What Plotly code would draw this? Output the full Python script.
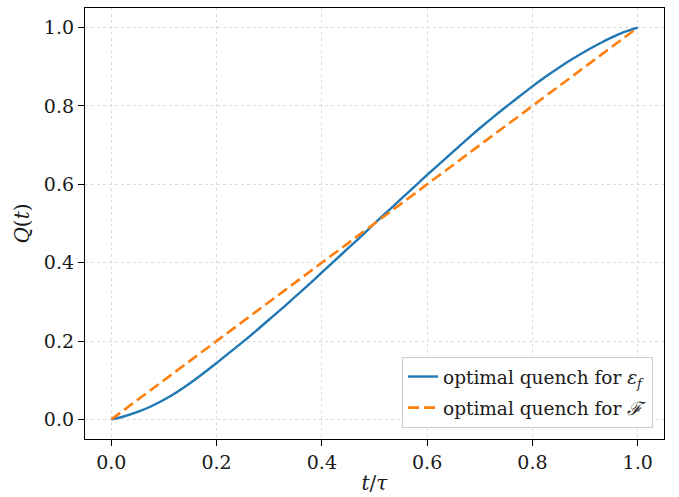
import plotly.graph_objects as go

# time grid t/tau
t_energy = [0.000, 0.025, 0.050, 0.075, 0.100, 0.125, 0.150, 0.175, 0.200,
            0.225, 0.250, 0.275, 0.300, 0.325, 0.350, 0.375, 0.400, 0.425,
            0.450, 0.475, 0.500, 0.525, 0.550, 0.575, 0.600, 0.625, 0.650,
            0.675, 0.700, 0.725, 0.750, 0.775, 0.800, 0.825, 0.850, 0.875,
            0.900, 0.925, 0.950, 0.975, 1.000]
# Q(t) for optimal quench for epsilon_f
q_energy = [0.000, 0.008, 0.019, 0.033, 0.050, 0.070, 0.093, 0.118, 0.144,
            0.171, 0.198, 0.226, 0.255, 0.284, 0.314, 0.344, 0.375, 0.406,
            0.437, 0.468, 0.500, 0.531, 0.562, 0.593, 0.624, 0.654, 0.684,
            0.714, 0.743, 0.771, 0.798, 0.824, 0.850, 0.8745, 0.8975, 0.919,
            0.939, 0.9575, 0.9745, 0.989, 1.000]
# Q(t) for optimal quench for F (linear ramp)
t_fid = [0.0, 1.0]
q_fid = [0.0, 1.0]

x_ticks = [0.0, 0.2, 0.4, 0.6, 0.8, 1.0]
y_ticks = [0.0, 0.2, 0.4, 0.6, 0.8, 1.0]
x_labels = ["0.0", "0.2", "0.4", "0.6", "0.8", "1.0"]
y_labels = ["0.0", "0.2", "0.4", "0.6", "0.8", "1.0"]

FONT = "DejaVu Serif"
fs_tick = 19
fs_title = 20
fs_leg = 18.5
TXT = "#1a1a1a"

fig = go.Figure()
fig.add_trace(go.Scatter(
    x=t_energy, y=q_energy, mode="lines", legendgroup="a",
    line=dict(color="#1f77b4", width=2.4, shape="spline", smoothing=1.0),
    name="optimal quench for <i>ε</i><sub><i>f</i></sub>"))
fig.add_trace(go.Scatter(
    x=t_fid, y=q_fid, mode="lines", legendgroup="b",
    line=dict(color="#ff7f0e", width=2.6, dash="11px,5px"),
    name="optimal quench for <i>ℱ</i>"))

axis_common = dict(
    showline=True, linecolor="black", linewidth=1.3, mirror=True,
    ticks="outside", ticklen=6, tickwidth=1.2, tickcolor="black",
    showgrid=True, gridcolor="#dcdcdc", gridwidth=1, griddash="dot",
    zeroline=False, automargin=False,
    tickfont=dict(family=FONT, size=fs_tick, color=TXT),
)

fig.update_xaxes(range=[-0.05, 1.05], tickvals=x_ticks, ticktext=x_labels,
                 title=dict(text="<i>t</i>/<i>τ</i>", font=dict(family=FONT, size=fs_title, color=TXT), standoff=4),
                 **axis_common)
fig.update_yaxes(range=[-0.05, 1.05], tickvals=y_ticks, ticktext=y_labels,
                 title=dict(text="<i>Q</i>(<i>t</i>)", font=dict(family=FONT, size=fs_title, color=TXT), standoff=8),
                 **axis_common)

fig.update_layout(
    width=679, height=497,
    margin=dict(l=85, r=15, t=8, b=58),
    plot_bgcolor="white", paper_bgcolor="white",
    font=dict(family=FONT, size=fs_tick, color=TXT),
    legend=dict(x=0.981, y=0.0255, xanchor="right", yanchor="bottom",
                tracegroupgap=4,
                bgcolor="rgba(255,255,255,0.85)", bordercolor="#cccccc", borderwidth=1,
                font=dict(family=FONT, size=fs_leg, color=TXT)),
)

fig.write_html("out.html", config={"displayModeBar": False},
               post_script="document.body.style.margin='0';document.body.style.padding='0';")
